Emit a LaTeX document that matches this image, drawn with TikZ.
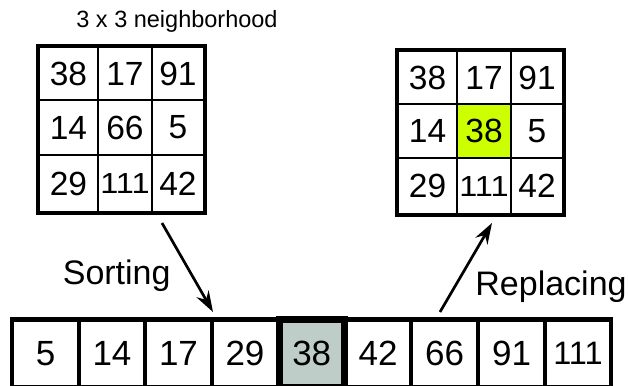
\documentclass[tikz,border=0pt]{standalone}
\usepackage{fontspec}
\setmainfont{Liberation Sans}
\usetikzlibrary{arrows.meta,fit}
\definecolor{hlyellow}{RGB}{204,255,0}
\definecolor{hlgray}{RGB}{190,205,200}
\begin{document}
\begin{tikzpicture}[x=1pt,y=-1pt,
  gcell/.style={draw,line width=1.3pt,inner sep=0pt,font=\fontsize{33.5}{33.5}\selectfont},
  gframe/.style={draw,line width=3.8pt,inner sep=0pt},
  hlcell/.style={gcell,fill=hlyellow,line width=2.8pt},
  rcell/.style={draw,line width=4.2pt,inner sep=0pt,minimum height=67.5,font=\fontsize{35}{35}\selectfont},
  lbl/.style={font=\fontsize{34}{34}\selectfont,inner sep=0pt,anchor=base},
  arr/.style={line width=2.7pt,-{Stealth[length=21pt,width=14pt,inset=7pt]}},
  c1/.style={minimum width=59},
  c2/.style={minimum width=54},
  c3/.style={minimum width=52}
]
\useasboundingbox (0,0) rectangle (628,385);
\fill[white] (0,0) rectangle (628,385);

% title
\node[font=\fontsize{23.5}{23.5}\selectfont,inner sep=0pt,anchor=base] (title) at (177,28) {3 x 3 neighborhood};

% left grid
\node[gcell,c1,minimum height=53] (l11) at (68.5,73.5) {38};
\node[gcell,c2,minimum height=53] (l12) at (125,73.5) {17};
\node[gcell,c3,minimum height=53] (l13) at (178,73.5) {91};
\node[gcell,c1,minimum height=55] (l21) at (68.5,127.5) {14};
\node[gcell,c2,minimum height=55] (l22) at (125,127.5) {66};
\node[gcell,c3,minimum height=55] (l23) at (178,127.5) {5};
\node[gcell,c1,minimum height=57] (l31) at (68.5,183.5) {29};
\node[gcell,c2,minimum height=57] (l32) at (125,183.5) {\scalebox{1.12}[1]{\fontsize{29}{29}\selectfont 111}};
\node[gcell,c3,minimum height=57] (l33) at (178,183.5) {42};
\node[gframe,fit=(l11)(l33)] (lgrid) {};

% right grid
\node[gcell,c1,minimum height=53] (r11) at (427.5,77.5) {38};
\node[gcell,c2,minimum height=53] (r12) at (484,77.5) {17};
\node[gcell,c3,minimum height=53] (r13) at (537,77.5) {91};
\node[gcell,c1,minimum height=54] (r21) at (427.5,131) {14};
\node[gcell,c3,minimum height=54] (r23) at (537,131) {5};
\node[gcell,c1,minimum height=56.5] (r31) at (427.5,186.25) {29};
\node[gcell,c2,minimum height=56.5] (r32) at (484,186.25) {\scalebox{1.12}[1]{\fontsize{29}{29}\selectfont 111}};
\node[gcell,c3,minimum height=56.5] (r33) at (537,186.25) {42};
\node[hlcell,c2,minimum height=54] (r22) at (484,131) {38};
\node[gframe,fit=(r11)(r33)] (rgrid) {};

% sorted row
\node[rcell,minimum width=67] (b1) at (45.5,353.25) {5};
\node[rcell,minimum width=66] (b2) at (112,353.25) {14};
\node[rcell,minimum width=67] (b3) at (178.5,353.25) {17};
\node[rcell,minimum width=66] (b4) at (245,353.25) {29};
\node[rcell,minimum width=66] (b6) at (378,353.25) {42};
\node[rcell,minimum width=67] (b7) at (444.5,353.25) {66};
\node[rcell,minimum width=67] (b8) at (511.5,353.25) {91};
\node[rcell,minimum width=66] (b9) at (578,353.25) {\fontsize{32.5}{32.5}\selectfont 111};
\node[rcell,minimum width=65,fill=hlgray,line width=6.5pt] (b5) at (311.75,353.25) {38};

% arrows
\coordinate (sortA) at (162,223);
\coordinate (sortB) at (213,312);
\coordinate (repA) at (440,312);
\coordinate (repB) at (492,223);
\draw[arr] (sortA) -- (sortB);
\draw[arr] (repA) -- (repB);

\node[lbl] (sorting) at (116.7,284) {Sorting};
\node[lbl] (replacing) at (551,295) {Replacing};
\end{tikzpicture}
\end{document}
